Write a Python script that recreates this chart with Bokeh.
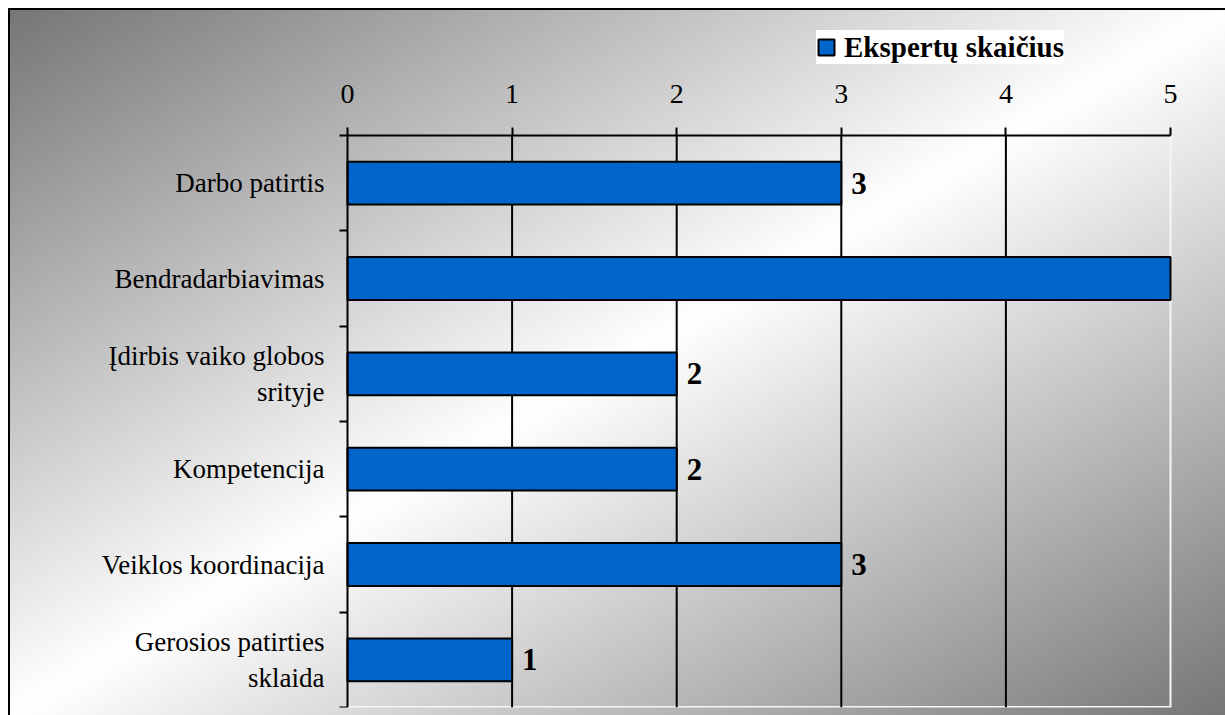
from bokeh.plotting import figure
from bokeh.models import FixedTicker, ColumnDataSource, Legend, LegendItem
from bokeh.core.properties import value
from bokeh.embed import file_html
from bokeh.resources import INLINE

categories = ["Darbo patirtis", "Bendradarbiavimas", "Įdirbis vaiko globos\nsrityje",
              "Kompetencija", "Veiklos koordinacija", "Gerosios patirties\nsklaida"]
values = [3, 5, 2, 2, 3, 1]
x_ticks = [0, 1, 2, 3, 4, 5]
series_name = "Ekspertų skaičius"

n = len(categories)
x_min, x_max = x_ticks[0], x_ticks[-1]
ypos = [n - i - 0.5 for i in range(n)]
src = ColumnDataSource(dict(y=ypos, v=values))
# value labels are shown only for bars that end inside the axis range
shown = [(yv, v) for yv, v in zip(ypos, values) if v < x_max]
lab_src = ColumnDataSource(dict(y=[s[0] for s in shown], v=[s[1] for s in shown],
                                lab=[str(s[1]) for s in shown]))

FONT = "Liberation Serif"

# layout in page pixels: frame covers the chart box, the plot area sits inside it
FRAME_L, FRAME_R, FRAME_T, FRAME_B = 10, 1215, 10, 707
AREA_L, AREA_R, AREA_T = 347, 1170, 135
sx = (AREA_R - AREA_L) / (x_max - x_min)
sy = (FRAME_B - AREA_T) / n
x_start = x_min - (AREA_L - FRAME_L) / sx
x_end = x_max + (FRAME_R - AREA_R) / sx
y_end = n + (AREA_T - FRAME_T) / sy

p = figure(width=1225, height=715, output_backend="svg", toolbar_location=None,
           x_range=(x_start, x_end), y_range=(0, y_end), x_axis_location="above",
           min_border_left=FRAME_L, min_border_right=1225 - FRAME_R, min_border_top=FRAME_T,
           min_border_bottom=715 - FRAME_B)
p.background_fill_color = None
p.border_fill_color = None
p.outline_line_color = None
p.styles = {"background": ("linear-gradient(to bottom right, #767676 0%, #ffffff 50%, #767676 100%) "
                           "10px 10px / calc(100% - 10px) calc(100% - 10px) no-repeat, "
                           "linear-gradient(#000000, #000000) 8px 8px / 100% 100% no-repeat, #ffffff")}
p.xgrid.grid_line_color = None
p.ygrid.grid_line_color = None

# plot-area edges (light) and vertical grid lines (black) limited to the plot area
inner = x_ticks[1:-1]
p.segment(x0=[x_max], y0=[0], x1=[x_max], y1=[n], line_color="#f6f6f6", line_width=2)
p.segment(x0=[x_min], y0=[0], x1=[x_max], y1=[0], line_color="#f6f6f6", line_width=3)
p.segment(x0=inner, y0=[0] * len(inner), x1=inner, y1=[n] * len(inner),
          line_color="#000000", line_width=2)

r = p.hbar(y="y", right="v", left=0, height=0.45, source=src, fill_color="#0066CC",
           line_color="#000000", line_width=2)
p.text(x="v", y="y", text="lab", source=lab_src, x_offset=10, text_baseline="middle",
       text_align="left", text_font=value(FONT), text_font_style="bold",
       text_font_size="31px", text_color="#000000")

# x axis (top), drawn at the top of the plot area
xa = p.xaxis[0]
xa.fixed_location = n
xa.bounds = (x_min, x_max)
xa.ticker = FixedTicker(ticks=x_ticks)
xa.axis_line_width = 2
xa.axis_line_color = "#000000"
xa.major_tick_line_width = 2
xa.major_tick_out = 8
xa.major_tick_in = 0
xa.minor_tick_out = 0
xa.minor_tick_in = 0
xa.major_label_text_font = FONT
xa.major_label_text_font_size = "28px"
xa.major_label_text_color = "#000000"
xa.major_label_standoff = 25

# y axis (left), drawn at x = 0
ya = p.yaxis[0]
ya.fixed_location = x_min
ya.bounds = (0, n)
ya.ticker = FixedTicker(ticks=ypos, minor_ticks=list(range(n + 1)))
ya.major_label_overrides = {yv: c for yv, c in zip(ypos, categories)}
ya.axis_line_width = 2
ya.axis_line_color = "#000000"
ya.major_tick_out = 0
ya.major_tick_in = 0
ya.minor_tick_out = 8
ya.minor_tick_in = 0
ya.minor_tick_line_width = 2
ya.minor_tick_line_color = "#000000"
ya.major_label_text_font = FONT
ya.major_label_text_font_size = "27px"
ya.major_label_text_color = "#000000"
ya.major_label_standoff = 15

lg = Legend(items=[LegendItem(label=series_name, renderers=[r])])
lg.location = (816 - FRAME_L, FRAME_B - 64)
lg.background_fill_color = "#ffffff"
lg.background_fill_alpha = 1
lg.border_line_color = None
lg.label_text_font = FONT
lg.label_text_font_style = "bold"
lg.label_text_font_size = "29px"
lg.label_text_color = "#000000"
lg.label_height = 34
lg.glyph_width = 20
lg.glyph_height = 20
lg.label_standoff = 8
lg.padding = 12
lg.margin = 0
p.add_layout(lg, "center")

open("out.html", "w").write(file_html(p, INLINE))
